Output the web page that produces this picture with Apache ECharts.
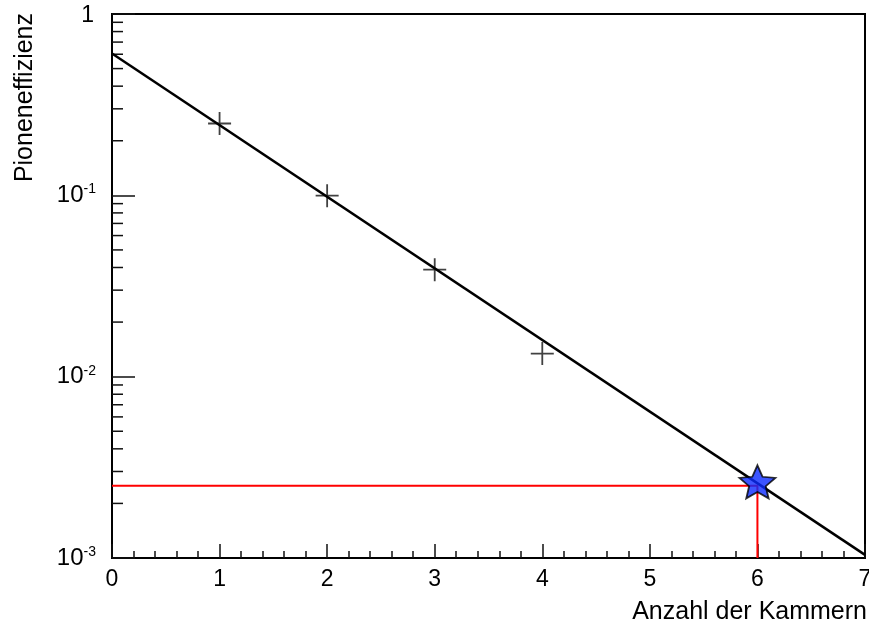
<!DOCTYPE html>
<html>
<head>
<meta charset="utf-8">
<script src="https://cdn.jsdelivr.net/npm/echarts@6/dist/echarts.min.js"></script>
<style>
html,body{margin:0;padding:0;background:#fff;}
#c{width:869px;height:629px;}
</style>
</head>
<body>
<div id="c"></div>
<script>
// ---- data ----
var chamberCounts = [1, 2, 3, 4];
var pionEfficiency = [0.249, 0.0996, 0.0389, 0.0134];
var fitX = [0, 7];
var fitY = [0.605, 0.00104];
var targetX = 6;
var targetY = 0.0025;
var xTicks = [0, 1, 2, 3, 4, 5, 6, 7];
var yDecades = [0.001, 0.01, 0.1, 1];
var yMinorFactors = [2, 3, 4, 5, 6, 7, 8, 9];
var xTitle = 'Anzahl der Kammern';
var yTitle = 'Pioneneffizienz';

var FONT = '"Liberation Sans", Arial, Helvetica, sans-serif';

var measured = chamberCounts.map(function (x, i) { return [x, pionEfficiency[i]]; });
var fitLine = fitX.map(function (x, i) { return [x, fitY[i]]; });
var guide = [[xTicks[0], targetY], [targetX, targetY], [targetX, yDecades[0]]];
var minorVals = [];
for (var d = 0; d < yDecades.length - 1; d++) {
  yMinorFactors.forEach(function (f) { minorVals.push([0, yDecades[d] * f]); });
}

var chart = echarts.init(document.getElementById('c'), null, { renderer: 'canvas' });
chart.setOption({
  backgroundColor: '#ffffff',
  animation: false,
  textStyle: { fontFamily: FONT },
  grid: {
    left: 112, right: 4, top: 14, bottom: 71,
    outerBoundsMode: 'none', containLabel: false,
    show: true, borderColor: '#000', borderWidth: 2, backgroundColor: 'transparent'
  },
  xAxis: {
    type: 'value', min: 0, max: 7, interval: 1,
    name: xTitle, nameLocation: 'end', nameGap: 2,
    nameTextStyle: { fontFamily: FONT, fontSize: 25, color: '#000', align: 'right', verticalAlign: 'top', padding: [42, 0, 0, 0] },
    axisLine: { show: true, onZero: false, lineStyle: { color: '#000', width: 2 } },
    axisTick: { show: true, inside: true, length: 14, lineStyle: { color: '#111', width: 1.5 } },
    minorTick: { show: true, splitNumber: 5, length: 7, lineStyle: { color: '#111', width: 1.5 } },
    axisLabel: { fontFamily: FONT, fontSize: 23, color: '#000', margin: 10 },
    splitLine: { show: false }, minorSplitLine: { show: false }
  },
  yAxis: {
    type: 'log', logBase: 10, min: 0.001, max: 1,
    axisLine: { show: true, lineStyle: { color: '#000', width: 2 } },
    axisTick: { show: true, inside: true, length: 23, lineStyle: { color: '#111', width: 1.5 } },
    axisLabel: {
      margin: 16, color: '#000',
      formatter: function (v) {
        var e = Math.round(Math.log10(v));
        if (e === 0) return '{t|1}';
        return '{b|10}{s|' + e + '}';
      },
      rich: {
        t: { fontFamily: FONT, fontSize: 23, color: '#000', lineHeight: 26, padding: [4, 2, 0, 0] },
        b: { fontFamily: FONT, fontSize: 24, color: '#000', lineHeight: 26 },
        s: { fontFamily: FONT, fontSize: 14, color: '#000', verticalAlign: 'top', lineHeight: 14 }
      }
    },
    splitLine: { show: false }
  },
  graphic: [{
    type: 'text', x: 25, y: 13, rotation: Math.PI / 2,
    style: { text: yTitle, font: '25px ' + FONT, fill: '#000', align: 'right', verticalAlign: 'middle' }
  }],
  series: [
    {
      type: 'custom', data: minorVals, silent: true, z: 3,
      renderItem: function (params, api) {
        var p = api.coord([0, api.value(1)]);
        return {
          type: 'line',
          shape: { x1: p[0], y1: p[1], x2: p[0] + 11, y2: p[1] },
          style: { stroke: '#111', lineWidth: 1.5 }
        };
      }
    },
    {
      type: 'line', data: guide, symbol: 'none', z: 4,
      lineStyle: { color: '#ff0000', width: 2 }
    },
    {
      type: 'scatter', data: measured, z: 5,
      symbol: 'path://M0,-1L0,1M-1,0L1,0', symbolSize: 23,
      itemStyle: { color: 'rgba(0,0,0,0)', borderColor: '#111', borderWidth: 1.8 }
    },
    {
      type: 'line', data: fitLine, symbol: 'none', z: 6,
      lineStyle: { color: '#000', width: 2.5 }
    },
    {
      type: 'scatter', data: [[targetX, targetY]], z: 7,
      symbol: 'path://M50,0L63.52,31.39L97.55,34.55L71.87,57.11L79.39,90.45L50,73L20.61,90.45L28.13,57.11L2.45,34.55L36.48,31.39Z',
      symbolSize: [36, 33], symbolOffset: [0, -4],
      itemStyle: { color: '#0b2bff', borderColor: '#000', borderWidth: 1.8 }
    }
  ]
});
</script>
</body>
</html>
